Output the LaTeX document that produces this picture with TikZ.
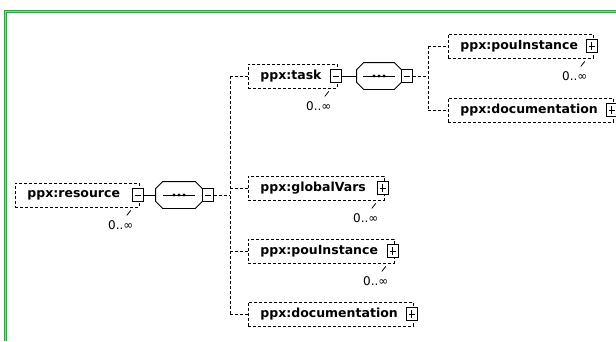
\documentclass[tikz,border=0pt]{standalone}
\usepackage{fontspec}
\newfontfamily\elfont{DejaVu Sans}
\usetikzlibrary{calc,backgrounds}
\definecolor{framegreen}{RGB}{52,160,72}
\definecolor{framelight}{RGB}{140,210,150}
\tikzset{
  dsh/.style={dash pattern=on 3pt off 2pt},
  elem/.style={draw, dsh, fill=white, anchor=west, minimum height=24pt,
    inner xsep=12pt, inner ysep=0pt, align=left,
    font=\elfont\bfseries\fontsize{12.5}{14}\selectfont},
  xbox/.style={draw, solid, fill=white, minimum width=11pt, minimum height=13pt, inner sep=0pt},
  minusbox/.style={xbox, path picture={
      \draw ([xshift=2.5pt]path picture bounding box.west) -- ([xshift=-2.5pt]path picture bounding box.east);}},
  plusbox/.style={xbox, path picture={
      \draw ([xshift=2.5pt]path picture bounding box.west) -- ([xshift=-2.5pt]path picture bounding box.east);
      \draw ([yshift=2.5pt]path picture bounding box.south) -- ([yshift=-2.5pt]path picture bounding box.north);}},
  mult/.style={anchor=east, inner sep=0pt, font=\elfont\fontsize{12}{14}\selectfont},
  seqnode/.style={minimum width=#1, minimum height=26pt, inner sep=0pt},
  shadeline/.style={black!22, dash pattern=on 1pt off 2pt},
}
% element box with its expander button
\newcommand\elbox[6]{%
  \node[elem, text width=#4] (#1) at (#2,#3) {#5};
  \node[#6] (#1-x) at ($(#1.east)+(-2,0)$) {};
}
% repeated element: second box behind, occurrence label
\newcommand\manyof[1]{%
  \begin{scope}[on background layer]
    \draw[dsh] ($(#1.north west)+(3,3)$) rectangle ($(#1.south east)+(3,3)$);
    \draw[shadeline] ($(#1.south west)+(6,7)$) -- ($(#1.south east)+(2,7)$);
  \end{scope}
  \draw ($(#1.south east)+(-9,3)$) -- ($(#1.south east)+(-13,8)$);
  \node[mult] (#1-m) at ($(#1.east)+(-6,30)$) {0..∞};
}
\newcommand\oneof[1]{%
  \begin{scope}[on background layer]
    \draw[shadeline] ($(#1.south west)+(6,4)$) -- ($(#1.south east)+(0,4)$);
  \end{scope}
}
% sequence compositor outline and symbol
\newcommand\seqshape[1]{%
  \draw ($(#1.north west)+(7,0)$) -- ($(#1.north east)+(-7,0)$) -- ($(#1.north east)+(0,7)$)
    -- ($(#1.south east)+(0,-7)$) -- ($(#1.south east)+(-7,0)$) -- ($(#1.south west)+(7,0)$)
    -- ($(#1.south west)+(0,-7)$) -- ($(#1.north west)+(0,7)$) -- cycle;
  \draw ($(#1.center)+(-16,0)$) -- ($(#1.center)+(16,0)$);
  \foreach \d in {-5,0,5} \fill ($(#1.center)+(\d,0)$) circle (1.7pt);
}
\begin{document}
\begin{tikzpicture}[x=1pt,y=-1pt,line width=0.8pt]
\useasboundingbox (0,0) rectangle (616,341);
\fill[white] (0,0) rectangle (616,341);

% frame
\draw[framegreen, line width=2.4pt] (5.5,341) -- (5.5,11.5) -- (616,11.5);
\draw[framelight, line width=0.7pt] (5.5,341) -- (5.5,11.5) -- (616,11.5);

% root element
\elbox{res}{15}{195}{100pt}{ppx:resource}{minusbox}
\manyof{res}
\node[seqnode=46pt] (res-seq) at (179,195) {};
\seqshape{res-seq}
\node[minusbox] (res-y) at ($(res-seq.east)+(5.5,0)$) {};
\draw (res-x) -- (res-seq);

% children of the root
\elbox{task}{248}{76}{65pt}{ppx:task}{minusbox}
\manyof{task}
\elbox{gv}{248}{188}{112pt}{ppx:globalVars}{plusbox}
\manyof{gv}
\elbox{pou}{248}{251}{122pt}{ppx:pouInstance}{plusbox}
\manyof{pou}
\elbox{doc}{248}{314}{141pt}{ppx:documentation}{plusbox}
\oneof{doc}

\coordinate (rt) at (230,76);
\coordinate (rb) at (230,314);
\draw[dsh] (rt) -- (rb);
\draw[dsh] (res-y) -- (res-y -| rt);
\draw[dsh] (rt) -- (task);
\draw[dsh] (gv.west -| rt) -- (gv);
\draw[dsh] (pou.west -| rt) -- (pou);
\draw[dsh] (rb) -- (doc);

% task content
\node[seqnode=44pt] (task-seq) at (379,76) {};
\seqshape{task-seq}
\node[minusbox] (task-y) at ($(task-seq.east)+(5.5,0)$) {};
\draw (task-x) -- (task-seq);

\elbox{tpou}{448}{46}{121pt}{ppx:pouInstance}{plusbox}
\manyof{tpou}
\elbox{tdoc}{448}{110}{141pt}{ppx:documentation}{plusbox}
\oneof{tdoc}

\coordinate (tt) at (428,46);
\coordinate (tb) at (428,110);
\draw[dsh] (tt) -- (tb);
\draw[dsh] (task-y) -- (task-y -| tt);
\draw[dsh] (tt) -- (tpou);
\draw[dsh] (tb) -- (tdoc);
\end{tikzpicture}
\end{document}
